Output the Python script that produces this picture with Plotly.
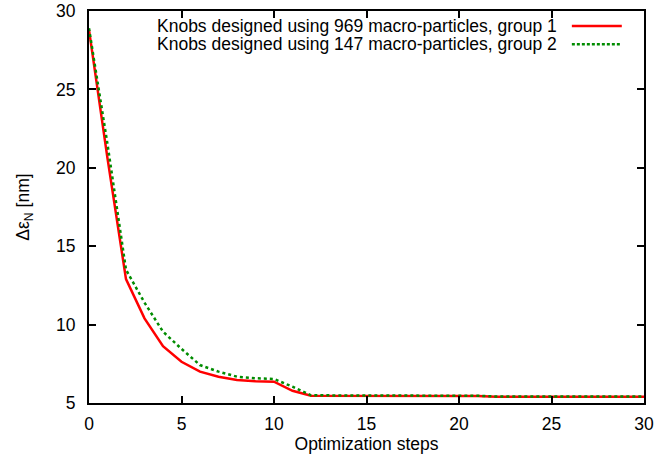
import plotly.graph_objects as go

steps = list(range(0, 31))
group1 = [28.8, 20.6, 12.9, 10.4, 8.62, 7.63, 7.0, 6.68, 6.47, 6.39, 6.36, 5.78, 5.47,
          5.47, 5.47, 5.47, 5.47, 5.47, 5.47, 5.47, 5.47, 5.45, 5.40, 5.40, 5.40, 5.40,
          5.40, 5.40, 5.40, 5.40, 5.40]
group2 = [28.9, 21.5, 13.5, 11.4, 9.55, 8.45, 7.42, 7.0, 6.68, 6.58, 6.53, 6.04, 5.49,
          5.49, 5.49, 5.49, 5.49, 5.49, 5.49, 5.49, 5.49, 5.46, 5.41, 5.41, 5.41, 5.41,
          5.41, 5.41, 5.41, 5.41, 5.41]
labels = ["Knobs designed using 969 macro-particles, group 1",
          "Knobs designed using 147 macro-particles, group 2"]
colors = ["#ff0000", "#008c00"]
dashes = ["solid", "dot"]

FONT = "Liberation Sans, Arial, Helvetica"
FS = 17.5

fig = go.Figure()
for vals, name, col, dash in zip([group1, group2], labels, colors, dashes):
    fig.add_trace(go.Scatter(x=steps, y=vals, mode="lines", name=name,
                             line=dict(color=col, width=2.5, dash=dash),
                             showlegend=False))

# manual legend (text right-aligned, line sample on the right)
rows_y = [0.962, 0.915]
for i, (name, col, dash) in enumerate(zip(labels, colors, dashes)):
    fig.add_annotation(xref="paper", yref="paper", x=0.846, y=rows_y[i], text=name,
                       showarrow=False, xanchor="right", yanchor="middle",
                       font=dict(size=FS, color="black", family=FONT))
    fig.add_shape(type="line", xref="paper", yref="paper", x0=0.870, x1=0.960,
                  y0=rows_y[i], y1=rows_y[i],
                  line=dict(color=col, width=2.5, dash="solid" if dash == "solid" else "3px,2px"))

axis_common = dict(showline=True, linecolor="black", linewidth=2, mirror="ticks",
                   ticks="inside", ticklen=7, tickwidth=1.5, tickcolor="black",
                   showgrid=False, zeroline=False, automargin=False,
                   tickfont=dict(size=FS, color="black", family=FONT))
fig.update_xaxes(range=[0, 30], dtick=5, tick0=0, ticklabelstandoff=4,
                 title=dict(text="Optimization steps", standoff=2,
                            font=dict(size=FS, color="black", family=FONT)),
                 **axis_common)
fig.update_yaxes(range=[5, 30], dtick=5, tick0=0, ticklabelstandoff=8,
                 title=dict(text="Δε<sub>N</sub> [nm]", standoff=22,
                            font=dict(size=FS, color="black", family=FONT)),
                 **axis_common)
fig.update_layout(width=671, height=463, margin=dict(l=89, r=27, t=11, b=60),
                  plot_bgcolor="white", paper_bgcolor="white",
                  font=dict(family=FONT, color="black"))
fig.write_html("out.html")
